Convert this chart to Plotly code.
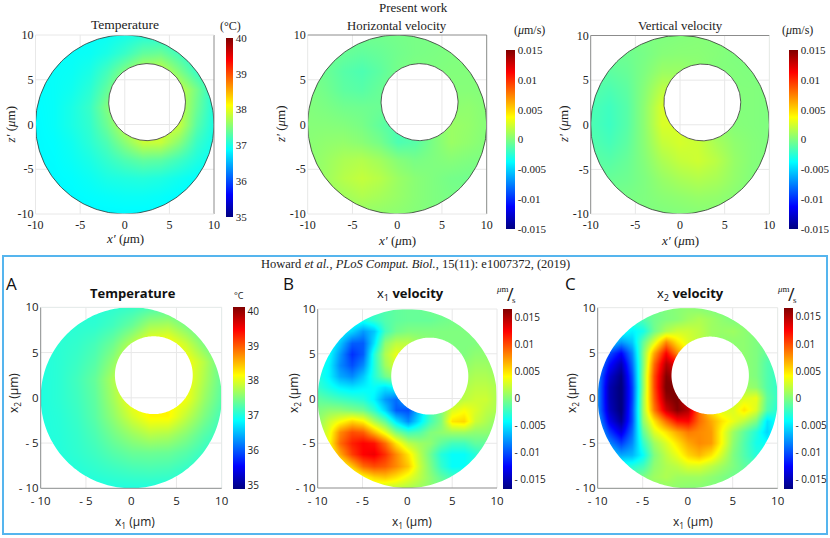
import numpy as np
import plotly.graph_objects as go

# Coarse grid used by the three "present work" panels and the lower temperature panel
GRID_X = [-10, -8, -6, -4, -2, 0, 2, 4, 6, 8, 10]
GRID_Y = [10, 8, 6, 4, 2, 0, -2, -4, -6, -8, -10]

# Finer grid for the two lower velocity panels
FINE_X = [-10, -8.75, -7.5, -6.25, -5, -3.75, -2.5, -1.25, 0, 1.25, 2.5, 3.75, 5, 6.25, 7.5, 8.75, 10]
FINE_Y = [10, 8.75, 7.5, 6.25, 5, 3.75, 2.5, 1.25, 0, -1.25, -2.5, -3.75, -5, -6.25, -7.5, -8.75, -10]

# Temperature, degrees C (rows top to bottom)
TEMP_PRESENT = [
    [36.9, 36.9, 36.9, 36.9, 36.92, 36.98, 37.05, 37.05, 37.0, 36.92, 36.9],
    [36.9, 36.9, 36.9, 36.92, 37.0, 37.15, 37.35, 37.4, 37.2, 37.0, 36.9],
    [36.9, 36.9, 36.92, 37.0, 37.2, 37.5, 37.8, 37.85, 37.5, 37.15, 36.95],
    [36.88, 36.9, 36.95, 37.08, 37.35, 37.75, 37.9, 37.9, 37.85, 37.45, 37.0],
    [36.87, 36.9, 37.0, 37.15, 37.5, 37.85, 37.9, 37.9, 37.85, 37.4, 37.0],
    [36.86, 36.9, 37.0, 37.12, 37.4, 37.8, 37.95, 37.95, 37.85, 37.3, 36.98],
    [36.86, 36.88, 36.95, 37.08, 37.25, 37.55, 37.85, 37.85, 37.55, 37.15, 36.95],
    [36.86, 36.87, 36.92, 37.0, 37.12, 37.25, 37.35, 37.32, 37.18, 37.02, 36.9],
    [36.86, 36.86, 36.88, 36.93, 37.0, 37.03, 37.05, 37.02, 36.95, 36.88, 36.86],
    [36.86, 36.86, 36.86, 36.88, 36.9, 36.92, 36.92, 36.9, 36.86, 36.86, 36.86],
    [36.85, 36.85, 36.85, 36.85, 36.85, 36.85, 36.85, 36.85, 36.85, 36.85, 36.85],
]
TEMP_HOWARD = [
    [37.05, 37.05, 37.05, 37.05, 37.1, 37.15, 37.25, 37.3, 37.2, 37.1, 37.05],
    [37.05, 37.05, 37.08, 37.1, 37.2, 37.4, 37.7, 37.75, 37.5, 37.25, 37.1],
    [37.05, 37.08, 37.12, 37.22, 37.42, 37.8, 38.15, 38.2, 37.9, 37.5, 37.2],
    [37.03, 37.08, 37.16, 37.3, 37.6, 38.1, 38.2, 38.2, 38.15, 37.8, 37.35],
    [37.02, 37.08, 37.2, 37.38, 37.75, 38.15, 38.2, 38.2, 38.15, 37.75, 37.35],
    [37.02, 37.08, 37.18, 37.35, 37.7, 38.15, 38.25, 38.25, 38.1, 37.65, 37.3],
    [37.02, 37.06, 37.15, 37.32, 37.6, 37.95, 38.2, 38.2, 37.85, 37.5, 37.2],
    [37.02, 37.05, 37.12, 37.25, 37.45, 37.65, 37.8, 37.75, 37.55, 37.3, 37.12],
    [37.02, 37.04, 37.1, 37.18, 37.3, 37.4, 37.42, 37.4, 37.3, 37.15, 37.02],
    [37.02, 37.02, 37.05, 37.1, 37.15, 37.2, 37.22, 37.2, 37.12, 37.02, 37.02],
    [37.0, 37.0, 37.0, 37.0, 37.02, 37.02, 37.02, 37.02, 37.0, 37.0, 37.0],
]

# Velocities, in units of 1e-3 um/s (rows top to bottom)
HORIZ_PRESENT = [
    [-0.2, -0.2, -0.3, -0.4, -0.4, -0.3, -0.2, -0.2, -0.1, 0, 0],
    [-0.3, -0.4, -0.7, -0.9, -0.7, -0.4, -0.2, -0.1, 0, 0, 0],
    [-0.2, -0.6, -1.2, -1.5, -1.0, -0.3, 0, 0, 0.1, 0.1, 0],
    [0, -0.4, -1.0, -1.2, -0.7, -0.1, 0, 0, 0.2, 0.2, 0.1],
    [0.1, -0.1, -0.4, -0.5, -0.6, -0.5, 0, 0, 0.4, 0.5, 0.2],
    [0.2, 0.2, 0.1, -0.2, -0.9, -1.6, -0.8, 0, 0.8, 0.6, 0.2],
    [0.3, 0.5, 0.6, 0.3, -0.3, -1.5, -1.2, -0.1, 0.8, 0.5, 0.1],
    [0.3, 0.8, 1.3, 1.5, 1.0, 0.2, -0.2, 0, 0.2, 0, -0.1],
    [0.3, 0.9, 1.6, 2.0, 1.6, 0.8, 0.3, 0, -0.3, -0.4, -0.2],
    [0.2, 0.6, 1.0, 1.4, 1.1, 0.7, 0.3, 0, -0.2, -0.2, -0.1],
    [0.1, 0.2, 0.4, 0.5, 0.5, 0.4, 0.2, 0, -0.1, -0.1, 0],
]
VERT_PRESENT = [
    [-0.2, -0.2, -0.2, -0.1, 0, 0.1, 0.2, 0.1, 0, -0.1, -0.1],
    [-0.5, -0.5, -0.5, -0.2, 0.2, 0.3, 0.3, 0.2, 0, -0.1, -0.1],
    [-0.8, -1.0, -0.7, 0, 0.8, 0.8, 0.5, 0.1, 0.1, 0, -0.1],
    [-1.2, -1.5, -1.0, 0.3, 1.8, 1.8, 0.5, 0.1, 0.1, 0.1, 0],
    [-1.5, -1.9, -1.2, 0.5, 2.6, 2.5, 0.5, 0, 0.1, 0.1, 0],
    [-1.5, -2.0, -1.2, 0.5, 2.6, 2.6, 1.2, 0.4, 0.2, 0.1, 0],
    [-1.3, -1.7, -1.0, 0.4, 2.0, 2.5, 2.2, 1.2, 0.5, 0.2, 0],
    [-1.0, -1.2, -0.7, 0.2, 1.3, 2.0, 2.3, 1.7, 0.7, 0.2, 0],
    [-0.6, -0.7, -0.5, 0, 0.7, 1.2, 1.5, 1.2, 0.6, 0.1, 0],
    [-0.3, -0.3, -0.2, 0, 0.3, 0.5, 0.7, 0.6, 0.3, 0, -0.1],
    [-0.1, -0.1, -0.1, 0, 0, 0.1, 0.2, 0.2, 0.1, 0, 0],
]
X1_HOWARD = [
    [-2, -2, -2, -2, -2, -2, -1.5, -1, -0.8, -0.8, -0.5, -0.5, -0.5, -0.3, 0, 0, 0],
    [-3, -3, -3, -3, -3.5, -2.5, -1.5, -1, -0.8, -0.8, -0.8, -0.5, -0.3, -0.2, 0, 0, 0],
    [-3, -3, -4, -5.5, -7.5, -6, -2, -0.5, 0, 0, 0, 0, 0, 0, 0, 0, 0],
    [-3, -3.5, -6, -9.5, -9.5, -5, 0.5, 2, 2, 1, 0.5, 0, 0, 0, 0, 0.3, 0],
    [-3, -4, -7.5, -11, -9.5, -3, 1.5, 3.5, 3, 1.5, 0, 0, 0, 0, 0.5, 0.5, 0.3],
    [-3, -4.5, -8, -10, -8, -3, 1, 3, 2.5, 1, 0, 0, 0, 0.5, 1, 1, 0.5],
    [-3, -4.5, -7, -8, -6, -3, -0.5, 1, 1, 0.5, 0, 0, 0, 1, 1.5, 1.5, 1],
    [-2.5, -3.5, -4.5, -5, -4.5, -4, -5, -4, -1.5, 0, 0, 0, 0, 1.5, 2, 2, 1.5],
    [-1, -1.5, -2, -2.5, -3, -4.5, -7.5, -9, -6, -3, 0, 0, 1, 2, 2.5, 2.5, 1.5],
    [0, 0.5, 0.5, 0, -0.5, -2.5, -5.5, -9.5, -10, -6, -2, 0, 3, 4, 3, 2, 1.5],
    [0.5, 2.5, 4, 5.5, 4.5, 1.5, -1, -5, -8, -5, -2, 0, 5, 5.5, 2.5, 1.5, 0.5],
    [1, 3.5, 8, 10, 9.5, 6.5, 3.5, 0, -2, -1.5, 0, 0.5, 1, 1, 0.5, 0.5, 0],
    [1, 4, 9, 11.5, 12.5, 12, 9, 5, 2, 1, 0.5, -1, -2, -2, -1, -1, -0.5],
    [0.5, 3, 7, 10.5, 12.5, 13, 11, 8, 5, 2, -0.5, -3, -4, -4, -3, -1.5, -1],
    [0, 1, 3, 6, 9, 10, 9.5, 8, 6, 2.5, 0, -2.5, -4, -4, -3, -1.5, -0.5],
    [0, 0.5, 1, 2, 4, 5.5, 6, 5, 3.5, 2, 0.5, -1, -2, -2, -1.5, -0.5, 0],
    [0, 0, 0.5, 1, 1.5, 2, 2, 2, 1.5, 1, 0.5, 0, -0.5, -0.5, 0, 0, 0],
]
X2_HOWARD = [
    [-1.5, -1.5, -1.5, -1.5, -1, -0.5, 0, 0.3, 0.5, 0.3, 0, -0.3, -0.5, -0.5, -0.5, -0.5, -0.5],
    [-2, -2, -2, -2, -1.5, -0.5, 0, 0.3, 1, 1.5, 1, 0.5, 0, 0, -0.3, -0.5, -0.5],
    [-3, -3, -3.5, -4.5, -3.5, -0.5, 1.5, 2.5, 2.5, 2, 1, 0.8, 1, 0.5, 0, -0.5, -0.5],
    [-4, -5, -7.5, -6, -1, 3, 8, 5, 3, 2, 1, 0.5, 0.5, 0.5, 0, -0.5, -1],
    [-6, -10, -12.5, -8, 0, 7, 12.5, 8, 4, 2, 1, 0.5, 0.5, 0.5, 0, -1, -1.5],
    [-7, -12, -15, -9, 0, 9, 15, 13, 7, 3, 1, 0.5, 0.5, 0.5, 0, -1.5, -2],
    [-8, -14, -16.5, -10, 0.5, 10, 16.5, 15, 8, 3, 1, 0.5, 0.5, 0.5, 0, -1.5, -2.5],
    [-8, -15, -17, -10.5, 0.5, 10, 17, 17, 10, 3, 2, 1, 1, 1, 0.5, -1.5, -2.5],
    [-8, -15, -17, -10.5, 1, 9.5, 16, 17, 13, 8, 3, 2, 2, 3, 3.5, -1, -2.5],
    [-8, -14.5, -17, -10, 1, 8.5, 14, 16.5, 15, 9, 5, 3, 3, 5, 3, -1.5, -3],
    [-7, -13, -16, -10, 0.5, 5, 9, 12, 12.5, 9, 7, 5, 3.5, 2, 0, -5, -3.5],
    [-6, -10.5, -13.5, -9, -1, 3, 5, 7, 8.5, 8, 7.5, 4, 1, -1, -3, -5.5, -3.5],
    [-5, -8, -10.5, -8, -2.5, 1, 3, 5, 7, 8, 7.5, 4, 0.5, -1.5, -3.5, -4, -3],
    [-3, -5, -7, -6.5, -4, 0, 2, 3.5, 5.5, 6.5, 5, 2.5, 0, -1.5, -3, -3, -2],
    [-1.5, -2, -3, -3, -2, 0.5, 1.5, 2, 3, 3, 2, 1, 0, -1, -1.5, -1.5, -1],
    [-1, -1, -1, -1, 0, 1, 1.5, 1, 1, 1, 0.5, 0, -0.5, -0.5, -0.5, -0.5, -0.5],
    [-0.5, -0.5, -0.5, 0, 0.5, 0.5, 0.5, 0.5, 0.3, 0.2, 0, 0, 0, 0, 0, 0, 0],
]

AXIS_TICKS = [-10, -5, 0, 5, 10]
TOP_TICK_TEXT = ["-10", "-5", "0", "5", "10"]
LOW_TICK_TEXT = ["- 10", "- 5", "0", "5", "10"]
TEMP_TICKS = [35, 36, 37, 38, 39, 40]
VEL_TICKS = [-0.015, -0.01, -0.005, 0, 0.005, 0.01, 0.015]
TOP_VEL_TEXT = ["-0.015", "-0.01", "-0.005", "0", "0.005", "0.01", "0.015"]
LOW_VEL_TEXT = ["- 0.015", "- 0.01", "- 0.005", "0", "0.005", "0.01", "0.015"]

W, H = 830, 538
SERIF = "Liberation Serif"
SANS = "Open Sans"
JET = [[0, "rgb(0,0,128)"], [0.125, "rgb(0,0,255)"], [0.375, "rgb(0,255,255)"],
       [0.625, "rgb(255,255,0)"], [0.875, "rgb(255,0,0)"], [1, "rgb(128,0,0)"]]
HOLE = (2.5, 2.5, 4.3)
GRID_COLOR = "#e8e8e8"
EDGE_COLOR = "#8c8c8c"


def fx(px):
    return px / W


def fy(py):
    return 1 - py / H


def circle(cx, cy, r, clockwise=False):
    t = np.linspace(0, 2 * np.pi, 241)
    if clockwise:
        t = -t
    return list(cx + r * np.cos(t)), list(cy + r * np.sin(t))


def grid_lines(vertical):
    # parts of each grid line outside the annulus (in the corners and in the hole)
    xs, ys = [], []
    for g in AXIS_TICKS[1:-1]:
        c = np.sqrt(100 - g ** 2)
        parts = [(-10, -c), (c, 10)]
        cx, cy, r = HOLE
        off = g - (cx if vertical else cy)
        mid = cy if vertical else cx
        if abs(off) < r:
            half = np.sqrt(r ** 2 - off ** 2)
            parts.append((mid - half, mid + half))
        for a, b in parts:
            if vertical:
                xs += [g, g, None]
                ys += [a, b, None]
            else:
                xs += [a, b, None]
                ys += [g, g, None]
    return xs, ys


# axes box, colorbar box (left, top, right, bottom in pixels), which sides have a dark edge
panels = [
    dict(z=np.array(TEMP_PRESENT), x=GRID_X, y=GRID_Y, box=(35.5, 35, 214, 214), bar=(226, 38, 233, 217),
         zr=(35, 40), ticks=TEMP_TICKS, text=[str(t) for t in TEMP_TICKS], edges="r", top=True),
    dict(z=np.array(HORIZ_PRESENT) * 1e-3, x=GRID_X, y=GRID_Y, box=(307.7, 35, 486.7, 214), bar=(506, 50, 515, 229),
         zr=(-0.015, 0.015), ticks=VEL_TICKS, text=TOP_VEL_TEXT, edges="tr", top=True),
    dict(z=np.array(VERT_PRESENT) * 1e-3, x=GRID_X, y=GRID_Y, box=(590.7, 35.5, 769.3, 214), bar=(789, 50, 798, 229),
         zr=(-0.015, 0.015), ticks=VEL_TICKS, text=TOP_VEL_TEXT, edges="tl", top=True),
    dict(z=np.array(TEMP_HOWARD), x=GRID_X, y=GRID_Y, box=(40.7, 307.3, 221.7, 488.3), bar=(233, 307, 245, 488.7),
         zr=(34.9, 40.13), ticks=TEMP_TICKS, text=[str(t) for t in TEMP_TICKS], edges="lb", top=False),
    dict(z=np.array(X1_HOWARD) * 1e-3, x=FINE_X, y=FINE_Y, box=(317.7, 309, 497, 488), bar=(503.3, 308.7, 512, 488.7),
         zr=(-0.0167, 0.0167), ticks=VEL_TICKS, text=LOW_VEL_TEXT, edges="lb", top=False),
    dict(z=np.array(X2_HOWARD) * 1e-3, x=FINE_X, y=FINE_Y, box=(597.7, 307.7, 777.7, 488.3), bar=(783.7, 307.3, 792.7, 488.7),
         zr=(-0.0167, 0.0167), ticks=VEL_TICKS, text=LOW_VEL_TEXT, edges="lb", top=False),
]

fig = go.Figure()
layout = {}
shapes = []

for n, p in enumerate(panels, start=1):
    xa, ya = f"x{n}", f"y{n}"
    left, top, right, bottom = p["box"]
    fam = SERIF if p["top"] else SANS
    tick_text = TOP_TICK_TEXT if p["top"] else LOW_TICK_TEXT
    tick_font = dict(family=fam, size=12 if p["top"] else 11.5, color="#222")
    bl, bt, br, bb = p["bar"]

    fig.add_trace(go.Heatmap(
        x=p["x"], y=p["y"], z=p["z"], xaxis=xa, yaxis=ya,
        colorscale=JET, zmin=p["zr"][0], zmax=p["zr"][1], zsmooth="best", hoverinfo="skip",
        colorbar=dict(
            x=fx(bl), xanchor="left", y=fy(bb), yanchor="bottom",
            len=(bb - bt) / H, thickness=br - bl, xpad=0, ypad=0, outlinewidth=0,
            tickmode="array", tickvals=p["ticks"], ticktext=p["text"], ticks="",
            tickfont=dict(family=fam, size=11 if p["top"] else 10, color="#222"),
        ),
    ))

    # white mask: square, outer circle and hole wound in turn so only the annulus stays open
    ox, oy = circle(0, 0, 10)
    hx, hy = circle(*HOLE, clockwise=True)
    fig.add_trace(go.Scatter(
        x=[-12, -12, 12, 12, -12, None] + ox + [None] + hx,
        y=[-12, 12, 12, -12, -12, None] + oy + [None] + hy,
        mode="none", fill="toself", fillcolor="white", hoverinfo="skip", showlegend=False,
        xaxis=xa, yaxis=ya,
    ))

    # light grid only shows in the corners and in the hole
    vx, vy = grid_lines(True)
    gx, gy = grid_lines(False)
    fig.add_trace(go.Scatter(
        x=vx + gx, y=vy + gy, mode="lines", line=dict(color=GRID_COLOR, width=1),
        hoverinfo="skip", showlegend=False, xaxis=xa, yaxis=ya,
    ))

    if p["top"]:
        fig.add_trace(go.Scatter(
            x=ox + [None] + hx, y=oy + [None] + hy, mode="lines", line=dict(color="#333333", width=0.8),
            hoverinfo="skip", showlegend=False, xaxis=xa, yaxis=ya,
        ))

    layout[f"xaxis{n}"] = dict(
        domain=[fx(left), fx(right)], range=[-10, 10], anchor=ya, showgrid=False, zeroline=False,
        tickmode="array", tickvals=AXIS_TICKS, ticktext=tick_text, ticks="",
        ticklabelstandoff=2 if p["top"] else 4, tickfont=tick_font,
    )
    layout[f"yaxis{n}"] = dict(
        domain=[fy(bottom), fy(top)], range=[-10, 10], anchor=xa, showgrid=False, zeroline=False,
        tickmode="array", tickvals=AXIS_TICKS, ticktext=tick_text, ticks="",
        ticklabelstandoff=1, tickfont=tick_font,
    )

    sides = {"l": (left, top, left, bottom), "r": (right, top, right, bottom),
             "t": (left, top, right, top), "b": (left, bottom, right, bottom)}
    for s in "lrtb":
        x0, y0, x1, y1 = sides[s]
        shapes.append(dict(type="line", xref="paper", yref="paper", x0=fx(x0), y0=fy(y0), x1=fx(x1), y1=fy(y1),
                           line=dict(color=EDGE_COLOR if s in p["edges"] else GRID_COLOR, width=1)))

# frame round the lower panels
shapes.append(dict(type="rect", xref="paper", yref="paper", x0=fx(3), y0=fy(534), x1=fx(827), y1=fy(256),
                   line=dict(color="#55b5ee", width=2)))


def note(px, py, text, family=SERIF, size=12, angle=0, color="#222"):
    return dict(x=fx(px), y=fy(py), xref="paper", yref="paper", text=text, showarrow=False,
                textangle=angle, xanchor="center", yanchor="middle", font=dict(family=family, size=size, color=color))


XP = "<i>x′</i> (<i>μ</i>m)"
ZP = "<i>z′</i> (<i>μ</i>m)"
UNIT = "(<i>μ</i>m/s)"
XS1 = "x<sub>1</sub> (μm)"
XS2 = "x<sub>2</sub> (μm)"

annotations = [
    note(413, 7.5, "Present work", size=13),
    note(125, 25, "Temperature", size=13.5),
    note(230, 26, "(°C)", size=12),
    note(397, 26, "Horizontal velocity", size=12.8),
    note(529, 30, UNIT, size=12),
    note(680, 26, "Vertical velocity", size=12.8),
    note(797, 30, UNIT, size=12),
    note(125, 239, XP, size=13), note(397, 240, XP, size=13), note(680, 240, XP, size=13),
    note(9.5, 125, ZP, size=13, angle=-90), note(280, 125, ZP, size=13, angle=-90), note(563, 125, ZP, size=13, angle=-90),
    note(415, 264, "Howard <i>et al.</i>, <i>PLoS Comput. Biol.</i>, 15(11): e1007372, (2019)", size=12.5),
    note(11, 283, "A", family=SANS, size=17, color="#111"),
    note(288, 283, "B", family=SANS, size=17, color="#111"),
    note(570, 283, "C", family=SANS, size=17, color="#111"),
    note(133, 293, "<b>Temperature</b>", family=SANS, size=13, color="#111"),
    note(410, 294, "x<sub>1</sub> <b>velocity</b>", family=SANS, size=13, color="#111"),
    note(690, 294, "x<sub>2</sub> <b>velocity</b>", family=SANS, size=13, color="#111"),
    note(239, 295, "°C", family=SANS, size=9),
    note(502, 289, "<i>μ</i>m", size=9), note(510, 294, "/", family=SANS, size=18), note(514, 300, "s", size=9),
    note(783, 289, "<i>μ</i>m", size=9), note(791, 294, "/", family=SANS, size=18), note(795, 300, "s", size=9),
    note(135, 522, XS1, family=SANS, size=12), note(412, 522, XS1, family=SANS, size=12), note(693, 522, XS1, family=SANS, size=12),
    note(14, 393, XS2, family=SANS, size=12, angle=-90), note(294, 393, XS2, family=SANS, size=12, angle=-90),
    note(572, 393, XS2, family=SANS, size=12, angle=-90),
]

fig.update_layout(
    width=W, height=H, margin=dict(l=0, r=0, t=0, b=0, autoexpand=False), paper_bgcolor="white", plot_bgcolor="white",
    showlegend=False, shapes=shapes, annotations=annotations, **layout,
)

# the page's default body margin would push the figure out of the window
fig.write_html("out.html", config={"displayModeBar": False}, post_script="document.body.style.margin = '0';")
